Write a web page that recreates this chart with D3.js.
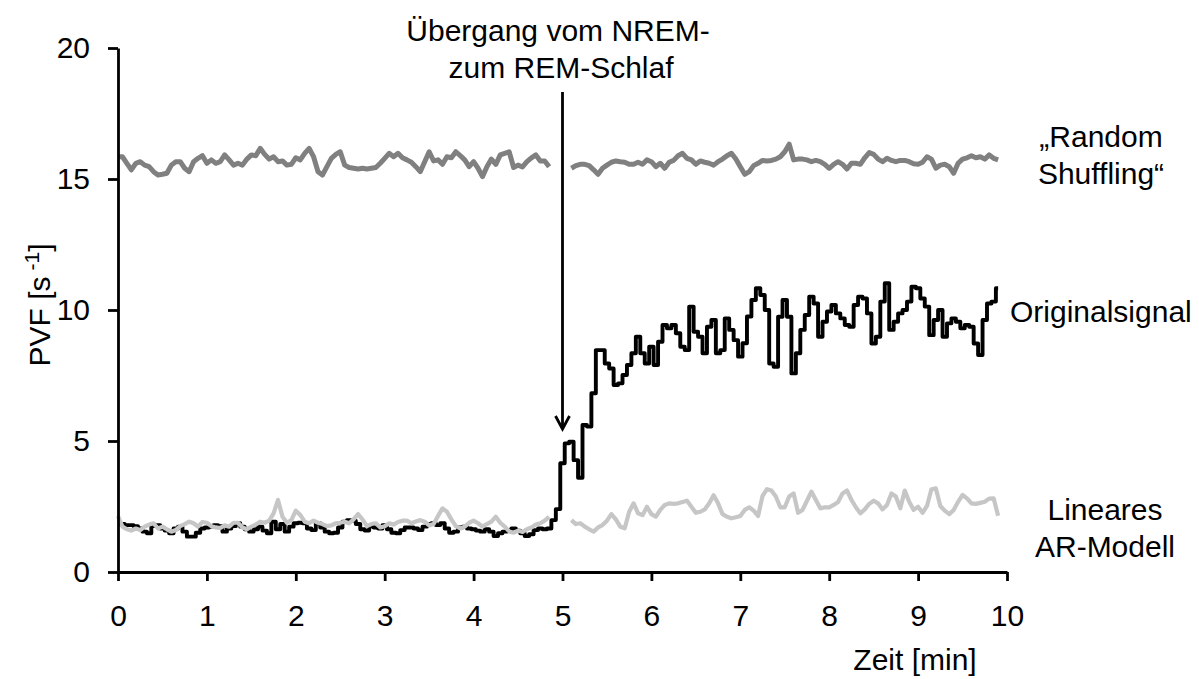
<!DOCTYPE html>
<html>
<head>
<meta charset="utf-8">
<script src="https://cdn.jsdelivr.net/npm/d3@7"></script>
<style>
  html, body { margin: 0; padding: 0; background: #fff; }
  svg { display: block; font-family: "Liberation Sans", Arial, sans-serif; }
</style>
</head>
<body>
<svg id="chart" width="1199" height="679"></svg>
<script>
// Sampling interval of all traces (minutes)
const timeStep = 0.05;

// Axis ticks
const xTicks = [0, 1, 2, 3, 4, 5, 6, 7, 8, 9, 10];
const yTicks = [0, 5, 10, 15, 20];

// "Random Shuffling" surrogate, before and after the sleep-stage change
const shuffleStarts = [0, 5.10];
const shuffleBefore = [
  15.85, 15.85, 15.60, 15.35, 15.60, 15.66, 15.53, 15.47, 15.28, 15.15,
  15.18, 15.22, 15.53, 15.66, 15.66, 15.41, 15.28, 15.66, 15.79, 15.89,
  15.60, 15.73, 15.60, 15.66, 15.92, 15.73, 15.53, 15.60, 15.53, 15.76,
  15.92, 15.89, 16.17, 15.94, 15.76, 15.85, 15.66, 15.69, 15.53, 15.56,
  15.81, 15.73, 15.98, 16.17, 15.85, 15.28, 15.15, 15.47, 15.79, 15.94,
  16.04, 15.53, 15.44, 15.41, 15.38, 15.41, 15.38, 15.41, 15.44, 15.60,
  15.79, 15.98, 15.85, 15.98, 15.81, 15.73, 15.64, 15.47, 15.28, 15.66,
  16.04, 15.69, 15.73, 15.56, 15.85, 15.81, 16.04, 15.89, 15.73, 15.47,
  15.66, 15.41, 15.09, 15.47, 15.76, 15.56, 15.92, 15.98, 16.04, 15.44,
  15.53, 15.46, 15.66, 15.81, 15.92, 15.69, 15.69, 15.47
];
const shuffleAfter = [
  15.41, 15.51, 15.56, 15.56, 15.51, 15.35, 15.18, 15.41, 15.53, 15.64,
  15.69, 15.66, 15.64, 15.56, 15.56, 15.64, 15.56, 15.73, 15.66, 15.47,
  15.60, 15.41, 15.64, 15.71, 15.89, 15.98, 15.79, 15.73, 15.56, 15.69,
  15.64, 15.60, 15.53, 15.66, 15.76, 15.89, 15.98, 15.76, 15.47, 15.18,
  15.28, 15.51, 15.60, 15.71, 15.69, 15.71, 15.76, 15.85, 16.04, 16.33,
  15.73, 15.76, 15.76, 15.73, 15.66, 15.71, 15.66, 15.56, 15.41, 15.56,
  15.66, 15.56, 15.38, 15.60, 15.60, 15.56, 15.81, 16.01, 15.94, 15.76,
  15.66, 15.79, 15.71, 15.66, 15.71, 15.71, 15.66, 15.58, 15.56, 15.64,
  15.85, 15.76, 15.41, 15.53, 15.56, 15.47, 15.22, 15.60, 15.76, 15.81,
  15.89, 15.81, 15.85, 15.76, 15.92, 15.79, 15.73
];

// Original PVF signal, continuous over the whole recording
const originalStart = 0;
const originalSignal = [
  1.86, 1.83, 1.79, 1.79, 1.75, 1.66, 1.54, 1.48, 1.75, 1.79,
  1.66, 1.58, 1.48, 1.66, 1.73, 1.54, 1.35, 1.35, 1.50, 1.66,
  1.70, 1.73, 1.79, 1.75, 1.54, 1.66, 1.75, 1.86, 1.73, 1.63,
  1.54, 1.63, 1.73, 1.58, 1.48, 1.92, 1.63, 1.83, 1.54, 1.73,
  1.86, 1.88, 1.86, 1.66, 1.60, 1.86, 1.70, 1.54, 1.48, 1.50,
  1.70, 1.92, 1.98, 1.96, 1.83, 1.63, 1.58, 1.73, 1.70, 1.66,
  1.79, 1.63, 1.50, 1.48, 1.60, 1.70, 1.70, 1.66, 1.60, 1.73,
  1.83, 1.86, 1.79, 1.86, 1.66, 1.50, 1.54, 1.70, 1.73, 1.66,
  1.63, 1.58, 1.54, 1.63, 1.54, 1.37, 1.48, 1.54, 1.60, 1.66,
  1.58, 1.48, 1.37, 1.44, 1.60, 1.66, 1.63, 1.66, 1.98, 2.40,
  4.15, 4.91, 4.97, 4.27, 3.60, 5.61, 5.55, 6.82, 8.47, 8.47,
  7.96, 7.77, 7.14, 7.20, 7.52, 7.90, 8.35, 8.98, 8.35, 7.96,
  8.60, 7.90, 8.79, 9.43, 9.30, 9.43, 9.11, 8.60, 8.47, 10.13,
  9.17, 8.98, 8.35, 9.36, 9.62, 8.35, 8.47, 9.68, 9.24, 8.85,
  8.22, 8.73, 9.75, 10.38, 10.83, 10.57, 10.00, 7.96, 7.83, 9.74,
  10.38, 9.74, 7.58, 8.35, 9.24, 9.81, 10.51, 10.25, 8.98, 9.55,
  9.94, 10.19, 9.87, 9.68, 9.43, 9.36, 10.19, 10.51, 10.44, 9.87,
  8.72, 8.98, 10.32, 11.02, 9.24, 9.55, 9.87, 10.00, 10.32, 10.89,
  10.83, 10.44, 10.13, 9.04, 9.62, 10.00, 8.98, 9.49, 9.68, 9.55,
  9.30, 9.43, 9.36, 8.72, 8.28, 9.62, 10.25, 10.32, 10.83
];

// Linear AR model surrogate, before and after the sleep-stage change
const arStarts = [0, 5.10];
const arBefore = [
  2.14, 1.73, 1.63, 1.58, 1.66, 1.60, 1.73, 1.81, 1.86, 1.66,
  1.73, 1.63, 1.54, 1.60, 1.75, 1.83, 1.92, 1.86, 1.73, 1.91,
  1.88, 1.75, 1.70, 1.68, 1.78, 1.73, 1.88, 1.88, 1.70, 1.63,
  1.73, 1.81, 1.92, 1.88, 1.96, 2.24, 2.75, 2.11, 1.88, 1.98,
  2.34, 2.18, 1.92, 1.86, 1.96, 1.88, 1.83, 1.75, 1.78, 1.86,
  1.88, 1.92, 1.86, 2.01, 2.21, 2.01, 1.75, 1.83, 1.86, 1.70,
  1.75, 1.86, 1.81, 1.91, 1.96, 1.96, 1.86, 1.93, 1.98, 1.92,
  1.78, 1.83, 2.14, 2.43, 2.30, 2.01, 1.75, 1.66, 1.73, 1.88,
  1.96, 1.86, 1.73, 1.83, 1.92, 2.11, 1.88, 1.73, 1.55, 1.50,
  1.58, 1.53, 1.63, 1.70, 1.81, 1.86, 1.96, 2.11
];
const arAfter = [
  1.98, 1.83, 1.86, 1.73, 1.63, 1.54, 1.70, 1.79, 1.96, 2.21,
  2.01, 1.73, 1.67, 2.30, 2.62, 2.24, 2.17, 2.49, 2.21, 2.11,
  2.37, 2.56, 2.62, 2.60, 2.62, 2.67, 2.72, 2.49, 2.26, 2.30,
  2.39, 2.62, 2.93, 2.62, 2.21, 2.11, 2.05, 2.09, 2.14, 2.37,
  2.47, 2.34, 2.14, 2.90, 3.16, 3.11, 2.88, 2.47, 2.47, 2.88,
  3.00, 2.26, 2.37, 2.72, 3.07, 2.75, 2.43, 2.47, 2.47, 2.56,
  2.67, 3.00, 3.11, 2.75, 2.47, 2.24, 2.39, 2.60, 2.72, 2.62,
  2.39, 2.56, 3.00, 2.88, 2.43, 3.11, 2.68, 2.37, 2.49, 2.26,
  2.52, 3.16, 3.19, 2.52, 2.34, 2.21, 2.37, 2.68, 2.94, 2.81,
  2.62, 2.60, 2.64, 2.68, 2.80, 2.81, 2.15
];

// Time of the NREM -> REM transition (minutes)
const transitionTime = 5;
const transitionValue = 5;

const svg = d3.select("#chart");
const W = 1199, H = 679;
svg.append("rect").attr("width", W).attr("height", H).attr("fill", "#fff");

const x = d3.scaleLinear().domain([0, 10]).range([118, 1007]);
const y = d3.scaleLinear().domain([0, 20]).range([572, 48]);

const toPoints = (values, start) => values.map((v, i) => ({ t: start + i * timeStep, v }));

const lineLinear = d3.line().x(d => x(d.t)).y(d => y(d.v)).curve(d3.curveLinear);
const lineStep = d3.line().x(d => x(d.t)).y(d => y(d.v)).curve(d3.curveStep);

// Traces
const traces = svg.append("g").attr("fill", "none").attr("stroke-linejoin", "round");

[shuffleBefore, shuffleAfter].forEach((vals, i) => {
  traces.append("path")
    .attr("d", lineLinear(toPoints(vals, shuffleStarts[i])))
    .attr("stroke", "#808080")
    .attr("stroke-width", 5);
});

traces.append("path")
  .attr("d", lineStep(toPoints(originalSignal, originalStart)))
  .attr("stroke", "#000")
  .attr("stroke-width", 3.9);

[arBefore, arAfter].forEach((vals, i) => {
  traces.append("path")
    .attr("d", lineLinear(toPoints(vals, arStarts[i])))
    .attr("stroke", "#c6c6c6")
    .attr("stroke-width", 4.2);
});

// Axes
const fontSize = 30;
const yAxis = d3.axisLeft(y).tickValues(yTicks).tickSize(10).tickSizeOuter(0).tickPadding(18);
const gy = svg.append("g").attr("transform", `translate(${x(0)},0)`).call(yAxis);
const xAxis = d3.axisBottom(x).tickValues(xTicks).tickSize(9).tickSizeOuter(0).tickPadding(24);
const gx = svg.append("g").attr("transform", `translate(0,${y(0)})`).call(xAxis);

[gx, gy].forEach(g => {
  g.select(".domain").attr("stroke", "#000").attr("stroke-width", 2.8);
  g.selectAll(".tick line").attr("stroke", "#000").attr("stroke-width", 2.8);
  g.selectAll(".tick text")
    .attr("fill", "#000")
    .style("font-size", fontSize + "px")
    .style("font-family", "'Liberation Sans', Arial, sans-serif");
});

// Axis titles
svg.append("text")
  .attr("x", 915).attr("y", 670)
  .attr("text-anchor", "middle")
  .style("font-size", fontSize + "px")
  .text("Zeit [min]");

const yTitle = svg.append("text")
  .attr("transform", "translate(50,305) rotate(-90)")
  .attr("text-anchor", "middle")
  .style("font-size", fontSize + "px");
yTitle.append("tspan").text("PVF [s");
yTitle.append("tspan").attr("dx", 6).attr("dy", -11).style("font-size", "21px").text("-1");
yTitle.append("tspan").attr("dy", 11).text("]");

// Transition annotation with arrow
const annot = svg.append("text")
  .attr("text-anchor", "middle")
  .style("font-size", fontSize + "px");
annot.append("tspan").attr("x", 558).attr("y", 41).text("Übergang vom NREM-");
annot.append("tspan").attr("x", 561).attr("y", 78).text("zum REM-Schlaf");

const ax = x(transitionTime);
const tipY = y(transitionValue) - 12;
svg.append("line")
  .attr("x1", ax).attr("x2", ax)
  .attr("y1", 92).attr("y2", tipY)
  .attr("stroke", "#000").attr("stroke-width", 2.8);
svg.append("path")
  .attr("d", `M${ax - 7},${tipY - 13} L${ax},${tipY} L${ax + 7},${tipY - 13}`)
  .attr("fill", "none").attr("stroke", "#000").attr("stroke-width", 2.8);

// Series labels at the right
const labels = svg.append("g").style("font-size", fontSize + "px");
const addLabel = (lines, cx, baseY, anchor) => {
  const t = labels.append("text").attr("text-anchor", anchor);
  lines.forEach((s, i) => t.append("tspan").attr("x", cx).attr("y", baseY + i * 37).text(s));
};
addLabel(["„Random", "Shuffling“"], 1101, 147, "middle");
addLabel(["Originalsignal"], 1010, 322, "start");
addLabel(["Lineares", "AR-Modell"], 1105, 520, "middle");
</script>
</body>
</html>
